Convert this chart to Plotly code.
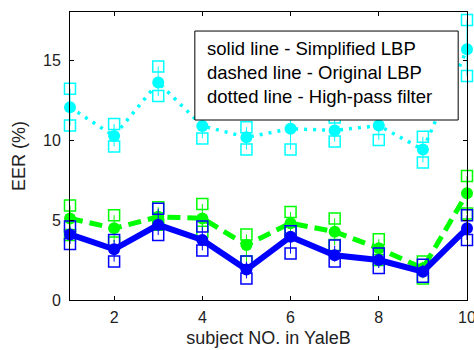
import plotly.graph_objects as go

subjects = [1, 2, 3, 4, 5, 6, 7, 8, 9, 10]

# Simplified LBP (solid, blue)
slbp_mean = [4.1, 3.17, 4.7, 3.75, 1.9, 3.96, 2.8, 2.5, 1.77, 4.48]
slbp_hi = [4.6, 3.75, 5.7, 4.6, 2.4, 4.3, 3.4, 2.9, 2.2, 5.3]
slbp_lo = [3.5, 2.4, 4.06, 3.1, 1.35, 2.9, 2.4, 2.0, 1.45, 3.75]

# Original LBP (dashed, green)
olbp_mean = [5.1, 4.48, 5.2, 5.1, 3.44, 4.8, 4.27, 3.23, 1.98, 6.67]
olbp_hi = [5.9, 5.3, 5.8, 6.0, 4.1, 5.5, 5.1, 3.8, 2.4, 7.75]
olbp_lo = [4.06, 3.6, 4.7, 4.27, 2.4, 4.2, 3.44, 2.5, 1.35, 5.4]

# High-pass filter (dotted, cyan)
hp_mean = [12.04, 10.25, 13.6, 10.88, 10.17, 10.7, 10.6, 10.9, 9.4, 15.67]
hp_hi = [13.2, 11.0, 14.6, 11.7, 10.8, 12.0, 11.4, 11.8, 10.2, 17.5]
hp_lo = [10.9, 9.6, 12.75, 10.1, 9.4, 9.4, 9.9, 10.0, 8.6, 14.0]

x_ticks = [2, 4, 6, 8, 10]
y_ticks = [0, 5, 10, 15]

legend_lines = [
    "solid line - Simplified LBP",
    "dashed line - Original LBP",
    "dotted line - High-pass filter",
]

series = [
    (slbp_mean, slbp_hi, slbp_lo, "#0000FF", "solid", 6),
    (olbp_mean, olbp_hi, olbp_lo, "#00FF00", "13px,7px", 5),
    (hp_mean, hp_hi, hp_lo, "#00FFFF", "3px,6px", 3.5),
]

fig = go.Figure()
for mean, hi, lo, col, dash, w in reversed(series):
    fig.add_trace(go.Scatter(
        x=subjects, y=mean, mode="lines+markers",
        line=dict(color=col, width=w, dash=dash),
        marker=dict(symbol="circle", size=12, color=col),
        error_y=dict(type="data", symmetric=False,
                     array=[h - m for h, m in zip(hi, mean)],
                     arrayminus=[m - l for m, l in zip(mean, lo)],
                     color=col, thickness=1, width=0),
        showlegend=False, cliponaxis=False,
    ))
    fig.add_trace(go.Scatter(
        x=subjects + subjects, y=hi + lo, mode="markers",
        marker=dict(symbol="square-open", size=11, color=col, line=dict(width=1.5)),
        showlegend=False, cliponaxis=False,
    ))

# legend box (MATLAB-style text box)
fig.add_shape(type="rect", xref="x", yref="y", x0=3.83, x1=9.8, y0=11.25, y1=16.81,
              line=dict(color="#000000", width=1), fillcolor="#FFFFFF", layer="above")
fig.add_annotation(
    xref="x", yref="y", x=4.06, y=14.2, xanchor="left", yanchor="middle",
    text="<br>".join(legend_lines),
    showarrow=False, align="left",
    font=dict(family="Liberation Sans, Arial, sans-serif", size=18.5, color="#000000"),
)

tick_font = dict(family="Liberation Sans, Arial, sans-serif", size=16, color="#222222")
title_font = dict(family="Liberation Sans, Arial, sans-serif", size=18, color="#222222")
fig.update_xaxes(
    range=[1, 10], tickvals=x_ticks, ticks="inside", ticklen=4, tickcolor="#000",
    showline=True, linecolor="#000", linewidth=1, mirror="ticks", showgrid=False,
    zeroline=False, tickfont=tick_font, ticklabelstandoff=3, ticklabeloverflow="allow",
    title=dict(text="subject NO. in YaleB", font=title_font, standoff=6),
)
fig.update_yaxes(
    range=[0, 18], tickvals=y_ticks, ticks="inside", ticklen=4, tickcolor="#000",
    showline=True, linecolor="#000", linewidth=1, mirror="ticks", showgrid=False,
    zeroline=False, tickfont=tick_font, ticklabeloverflow="allow", ticklabelstandoff=5,
    title=dict(text="EER (%)", font=title_font, standoff=12),
)
fig.update_layout(
    width=474, height=350,
    margin=dict(l=70, r=7, t=12, b=50, autoexpand=False),
    plot_bgcolor="#FFFFFF", paper_bgcolor="#FFFFFF",
)
fig.write_html("out.html", config={"displayModeBar": False},
               post_script="document.body.style.margin='0';")
